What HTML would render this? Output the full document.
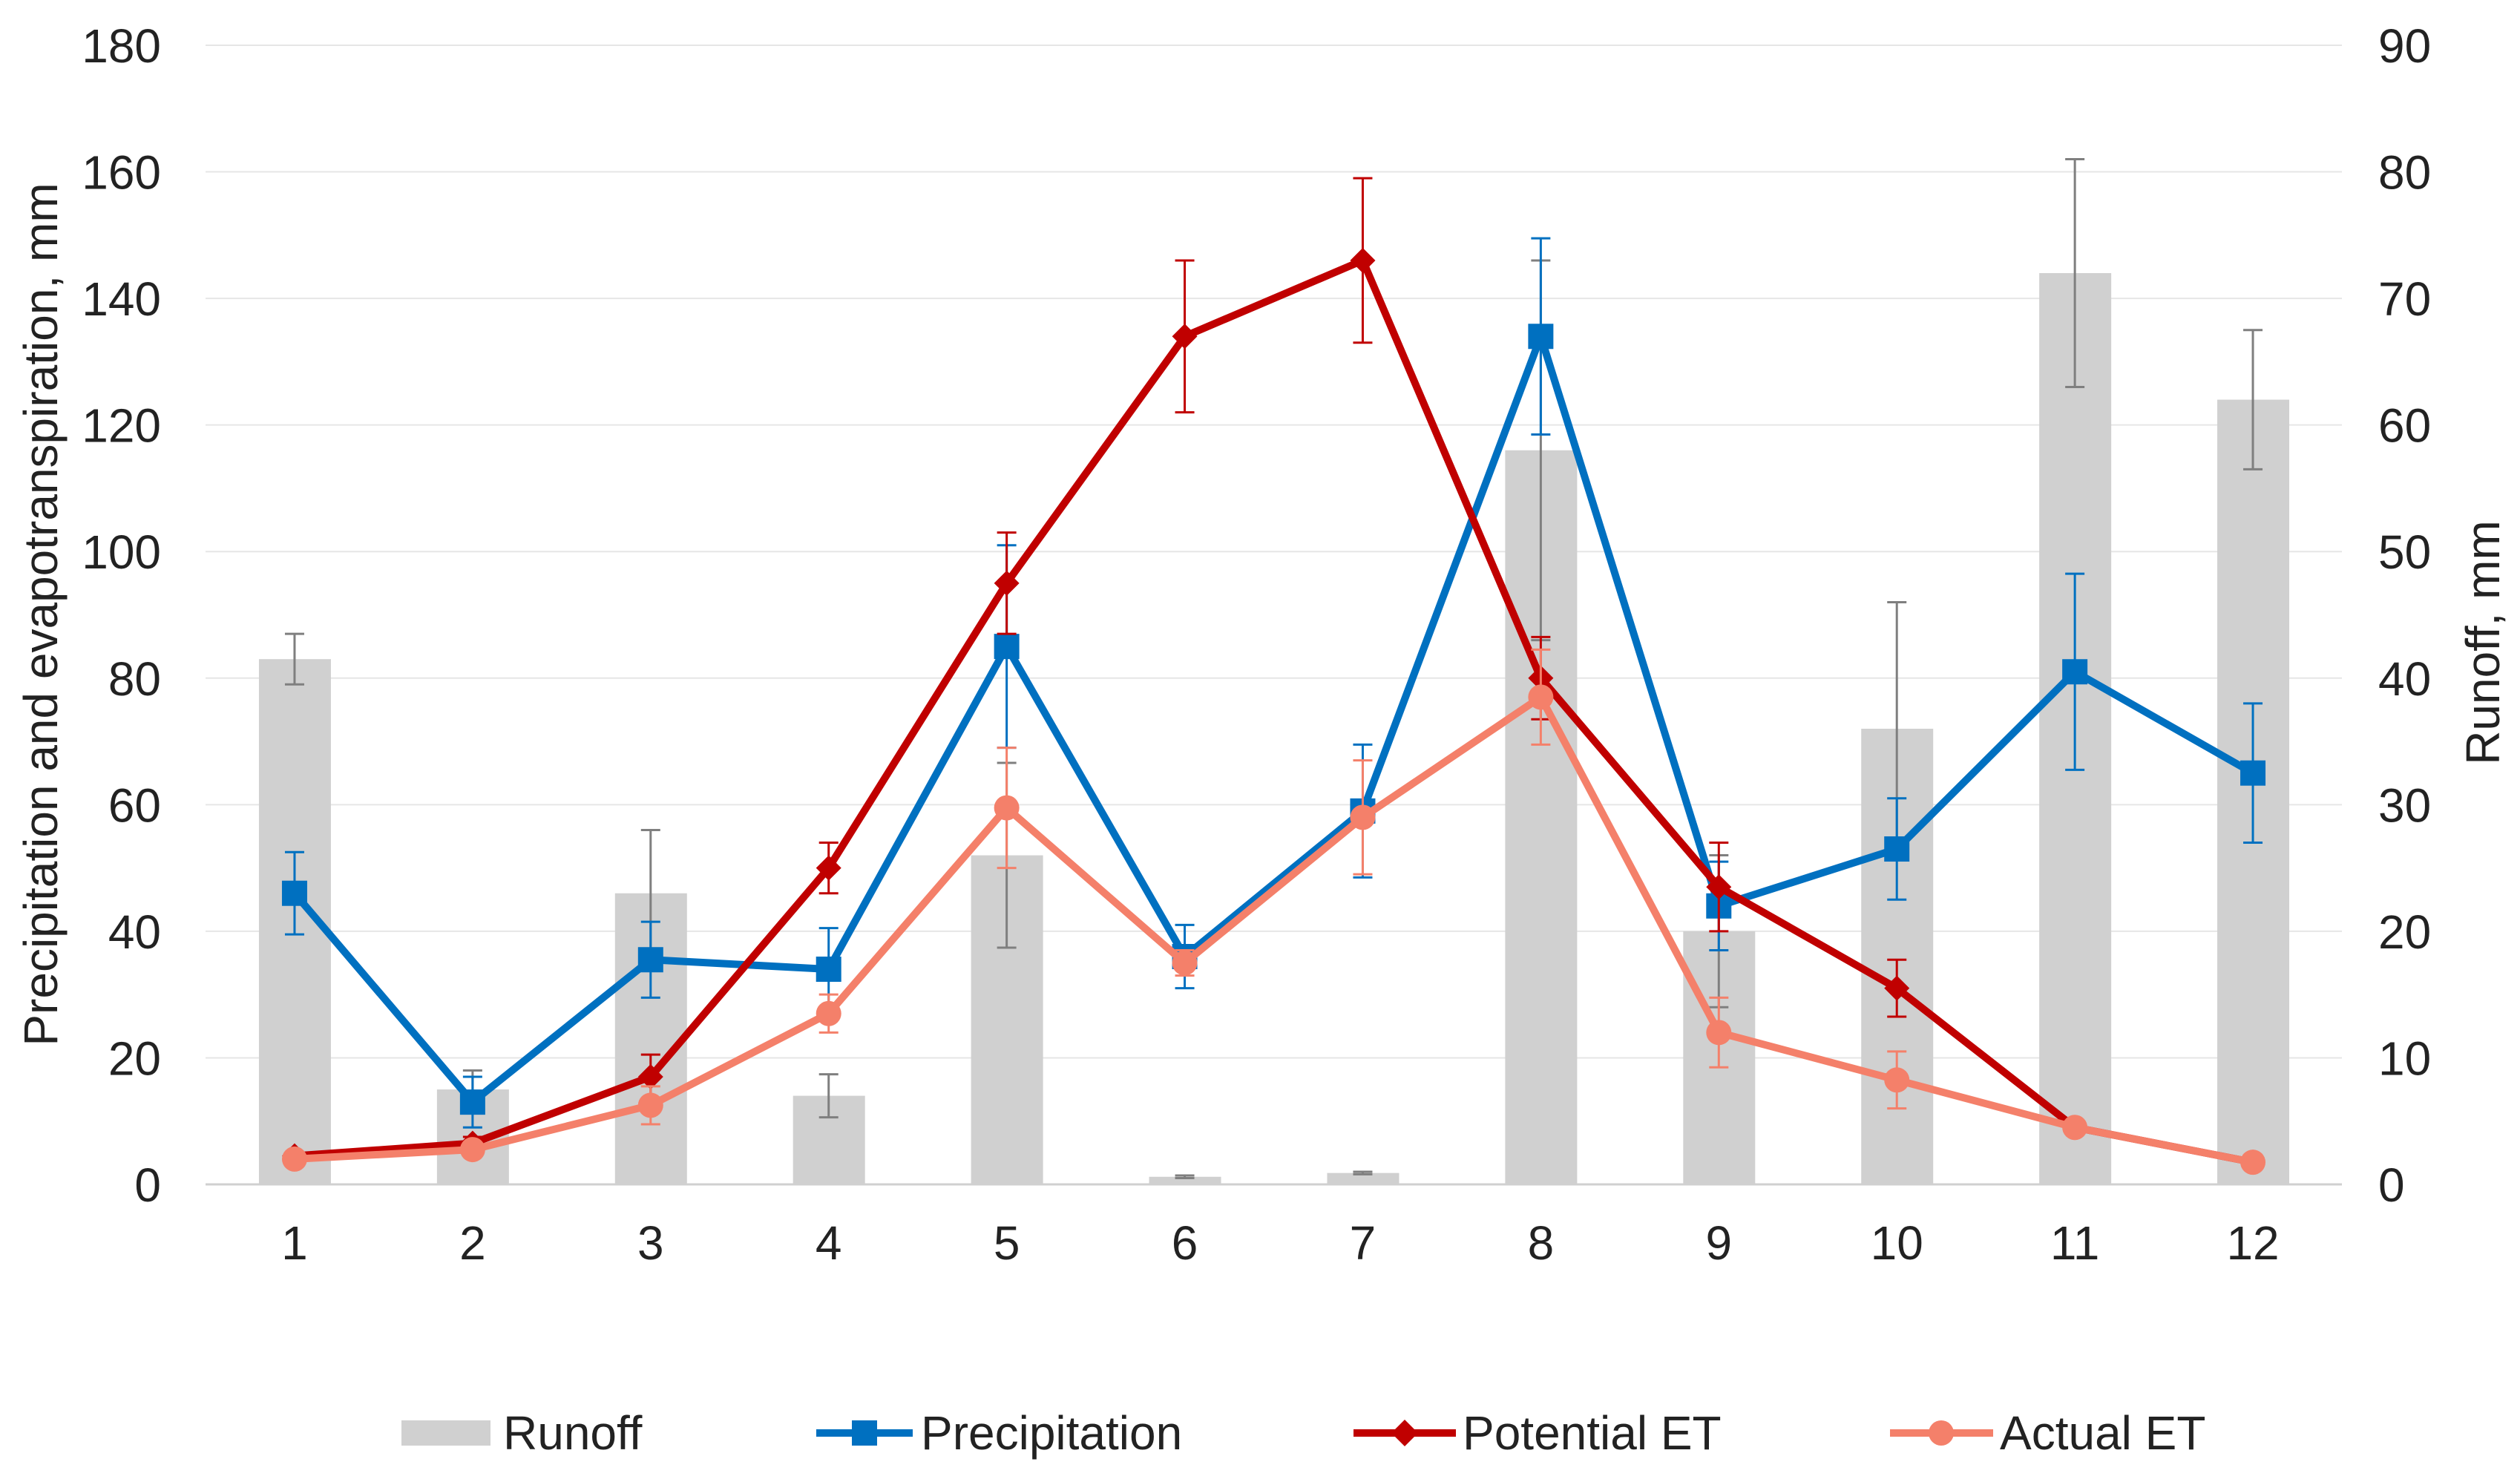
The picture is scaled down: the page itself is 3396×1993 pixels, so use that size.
<!DOCTYPE html>
<html><head><meta charset="utf-8"><style>
html,body{margin:0;padding:0;background:#fff}
svg{display:block}
text{font-family:"Liberation Sans",sans-serif;fill:#222}
</style></head><body>
<svg id="chart" width="3396" height="1993" viewBox="0 0 3396 1993" xmlns="http://www.w3.org/2000/svg">
<g id="grid"></g>
<g id="bars"></g>
<g id="lines"></g>
<g id="axes"></g>
<text transform="translate(77,828) rotate(-90)" text-anchor="middle" font-size="64">Precipitation and evapotranspiration, mm</text>
<text transform="translate(3368,866) rotate(-90)" text-anchor="middle" font-size="64">Runoff, mm</text>
<g>
 <g><rect x="541" y="1914" width="120" height="34" fill="#D0D0D0"/><text x="678" y="1953" font-size="64">Runoff</text></g>
 <g><line x1="1100" y1="1931" x2="1230" y2="1931" stroke="#0070C0" stroke-width="10"/><rect x="1148" y="1914" width="34" height="34" fill="#0070C0"/><text x="1241" y="1953" font-size="64">Precipitation</text></g>
 <g><line x1="1824" y1="1931" x2="1962" y2="1931" stroke="#C00000" stroke-width="10"/><polygon points="1893,1913 1911,1931 1893,1949 1875,1931" fill="#C00000"/><text x="1971" y="1953" font-size="64">Potential ET</text></g>
 <g><line x1="2547" y1="1931" x2="2686" y2="1931" stroke="#F4806A" stroke-width="10"/><circle cx="2616" cy="1931" r="17" fill="#F4806A"/><text x="2695" y="1953" font-size="64">Actual ET</text></g>
</g>
</svg>
<script>
const months=[1,2,3,4,5,6,7,8,9,10,11,12];
const precip=[46,13,35.5,34,85,36,59,134,44,53,81,65];
const precipErr=[6.5,4,6,6.5,16,5,10.5,15.5,7,8,15.5,11];
const pet=[4.5,6.5,17,50,95,134,146,80,47,31,9,3.5];
const petErr=[0.5,1,3.5,4,8,12,13,6.5,7,4.5,0.5,0.3];
const aet=[4,5.5,12.5,27,59.5,35,58,77,24,16.5,9,3.5];
const aetErr=[0.5,1,3,3,9.5,2,9,7.5,5.5,4.5,0.5,0.3];
const runoff=[41.5,7.5,23,7,26,0.6,0.9,58,20,36,72,62];
const runoffErr=[2,1.5,5,1.7,7.3,0.1,0.1,15,6,10,9,5.5];
const leftTicks=[0,20,40,60,80,100,120,140,160,180];
const rightTicks=[0,10,20,30,40,50,60,70,80,90];

const NS="http://www.w3.org/2000/svg";
const L=277,R=3156,Y0=1596,Y1=61;
const step=(R-L)/months.length;
const x=i=>L+step*(i+0.5);
const yl=v=>Y0-(v/180)*(Y0-Y1);
const yr=v=>Y0-(v/90)*(Y0-Y1);
function mk(tag,attrs,parent){const e=document.createElementNS(NS,tag);for(const k in attrs)e.setAttribute(k,attrs[k]);parent.appendChild(e);return e;}
const grid=document.getElementById('grid'),bars=document.getElementById('bars'),lines=document.getElementById('lines'),axes=document.getElementById('axes');

leftTicks.forEach((t,i)=>{
 if(t>0){const g=mk('line',{x1:L,x2:R,y1:yl(t),y2:yl(t),stroke:'#E6E6E6','stroke-width':2},grid);
 
 }
 const tx=mk('text',{x:217,y:yl(t)+23,'text-anchor':'end','font-size':64},axes);tx.textContent=t;
 
 
});
rightTicks.forEach(t=>{
 const tx=mk('text',{x:3205,y:yr(t)+23,'font-size':64},axes);tx.textContent=t;
 
 
});
const base=mk('line',{x1:L,x2:R,y1:Y0,y2:Y0,stroke:'#D0D0D0','stroke-width':3},axes);


months.forEach((m,i)=>{
 const tx=mk('text',{x:x(i),y:1697,'text-anchor':'middle','font-size':64},axes);tx.textContent=m;
 
 
});

function errBar(cx,yv,ye,yfn,color,parent){
 const g=mk('g',{stroke:color,'stroke-width':3},parent);
 
 
 const a=yfn(yv+ye),b=yfn(Math.max(0,yv-ye));
 mk('line',{x1:cx,x2:cx,y1:a,y2:b},g);
 mk('line',{x1:cx-13,x2:cx+13,y1:a,y2:a},g);
 mk('line',{x1:cx-13,x2:cx+13,y1:b,y2:b},g);
}
runoff.forEach((v,i)=>{
 const r=mk('rect',{x:x(i)-48,y:yr(v),width:97,height:Y0-yr(v),fill:'#D0D0D0'},bars);
 
 
 errBar(x(i),v,runoffErr[i],yr,'#7F7F7F',bars);
});
function series(vals,errs,color,shape,name){
 const g=mk('g',{},lines);
 
 
 vals.forEach((v,i)=>errBar(x(i),v,errs[i],yl,color,g));
 const p=mk('polyline',{points:vals.map((v,i)=>x(i)+','+yl(v)).join(' '),fill:'none',stroke:color,'stroke-width':10,'stroke-linejoin':'round'},g);
 
 
 vals.forEach((v,i)=>{
  const cx=x(i),cy=yl(v);let m;
  if(shape==='sq')m=mk('rect',{x:cx-17,y:cy-17,width:34,height:34,fill:color},g);
  else if(shape==='di')m=mk('polygon',{points:`${cx},${cy-17} ${cx+17},${cy} ${cx},${cy+17} ${cx-17},${cy}`,fill:color},g);
  else m=mk('circle',{cx:cx,cy:cy,r:17,fill:color},g);
  
  
 });
}
series(precip,precipErr,'#0070C0','sq','precipitation');
series(pet,petErr,'#C00000','di','potential-et');
series(aet,aetErr,'#F4806A','ci','actual-et');
</script>
</body></html>
